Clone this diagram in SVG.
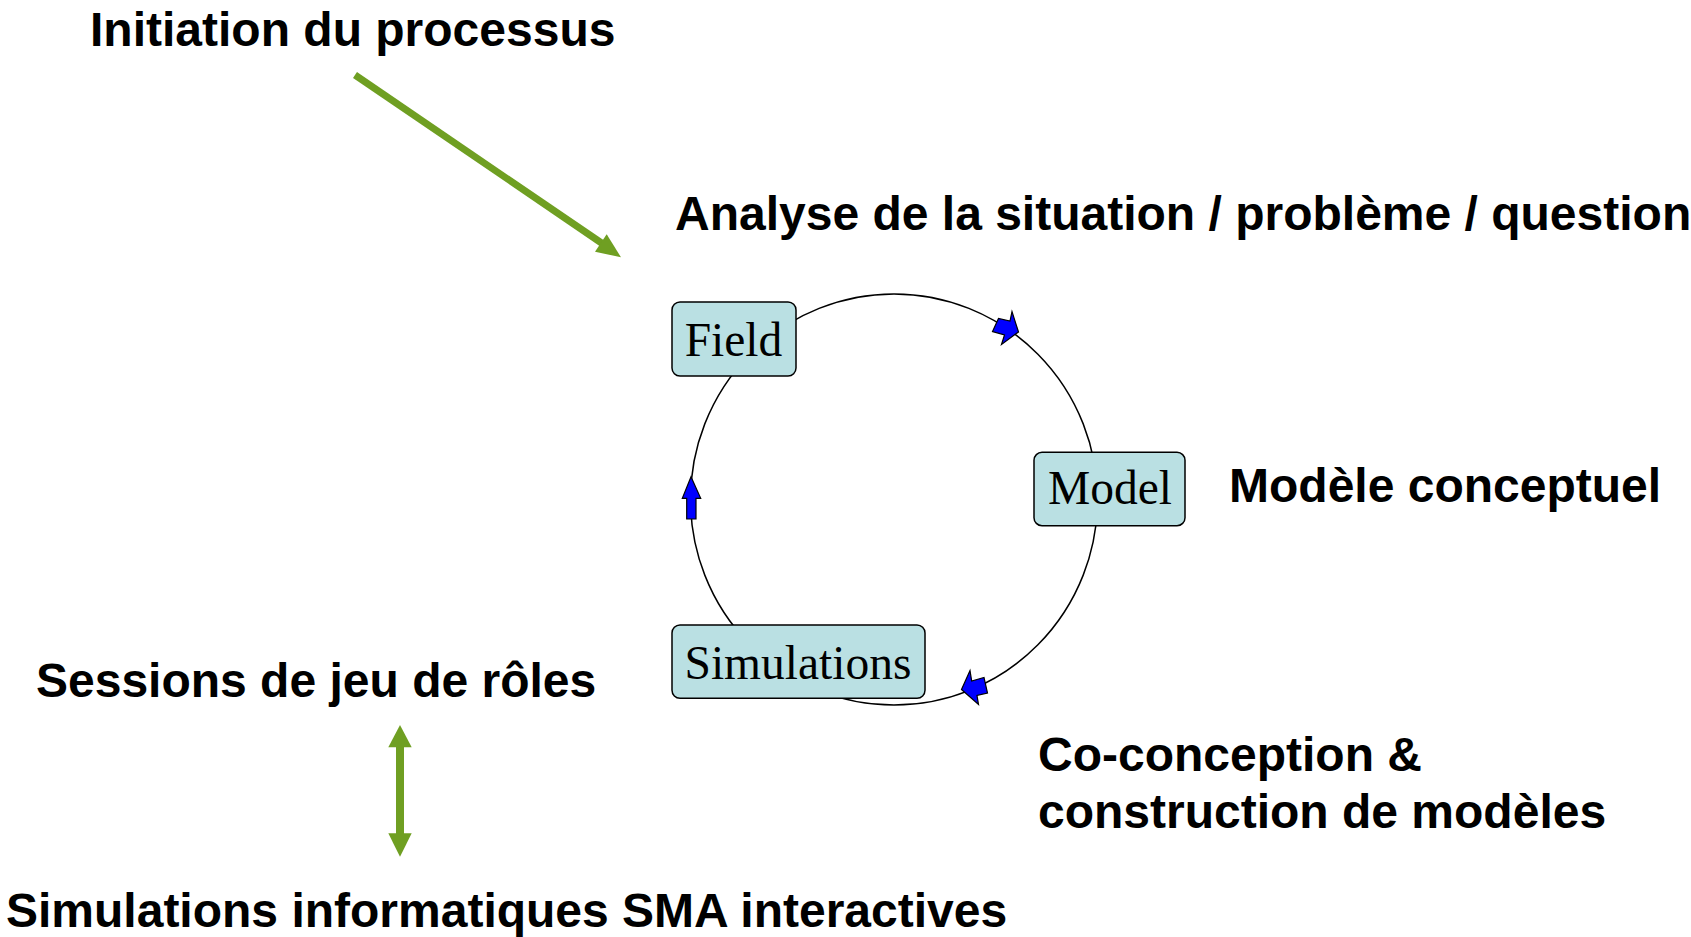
<svg xmlns="http://www.w3.org/2000/svg" width="1691" height="937" viewBox="0 0 1691 937">
<style>
.lbl{font-family:"Liberation Sans",Arial,sans-serif;font-weight:bold;font-size:48px;fill:#000}
.box{fill:#bae0e3;stroke:#000;stroke-width:1.5}
.nt{font-family:"Liberation Serif","Times New Roman",serif;font-size:47.5px;fill:#000;text-anchor:middle}
.cyc{fill:none;stroke:#000;stroke-width:1.5}
.blue{fill:#0000ff;stroke:#000;stroke-width:1.2;stroke-linejoin:miter}
.green{fill:#6f9f22}
</style>
<rect width="1691" height="937" fill="#fff"/>
<g id="labels">
<text class="lbl" x="90" y="46">Initiation du processus</text>
<text class="lbl" x="675" y="230">Analyse de la situation / problème / question</text>
<text class="lbl" x="1229" y="502">Modèle conceptuel</text>
<text class="lbl" x="1038" y="771">Co-conception &amp;</text>
<text class="lbl" x="1038" y="828">construction de modèles</text>
<text class="lbl" x="36" y="697">Sessions de jeu de rôles</text>
<text class="lbl" x="6" y="927">Simulations informatiques SMA interactives</text>
</g>
<g id="connectors">
<ellipse class="cyc" cx="894" cy="499.5" rx="203.5" ry="205.5"/>
<polygon class="blue" points="1018.5,332 1012,311.5 1010,321 998.5,318.5 992.5,331.5 1004.5,335 1001.5,344.5"/>
<polygon class="blue" points="961.5,689.5 970,670.5 971.7,681 984,677.5 987.5,693 977,695.5 978.5,704.5"/>
<polygon class="blue" points="691,476.7 700.7,498.3 696,498.3 696,519 686.7,519 686.7,498.3 682.3,498.3"/>
<g id="green-diagonal">
<line x1="355" y1="75" x2="603" y2="244" stroke="#6f9f22" stroke-width="7"/>
<polygon class="green" points="621,257.3 595,251.7 606.7,234.3"/>
</g>
<g id="green-double">
<rect class="green" x="396" y="746" width="8" height="89"/>
<polygon class="green" points="400,725 411.7,747.3 388.3,747.3"/>
<polygon class="green" points="400,856.7 411.7,833.3 388.3,833.3"/>
</g>
</g>
<g id="node-field">
<rect class="box" x="672" y="302" width="124" height="74" rx="8"/>
<text class="nt" x="733.5" y="356">Field</text>
</g>
<g id="node-model">
<rect class="box" x="1034" y="452.3" width="151" height="73.4" rx="8"/>
<text class="nt" x="1110" y="504">Model</text>
</g>
<g id="node-simulations">
<rect class="box" x="672" y="625" width="253" height="73.3" rx="8"/>
<text class="nt" x="798" y="679">Simulations</text>
</g>
</svg>
